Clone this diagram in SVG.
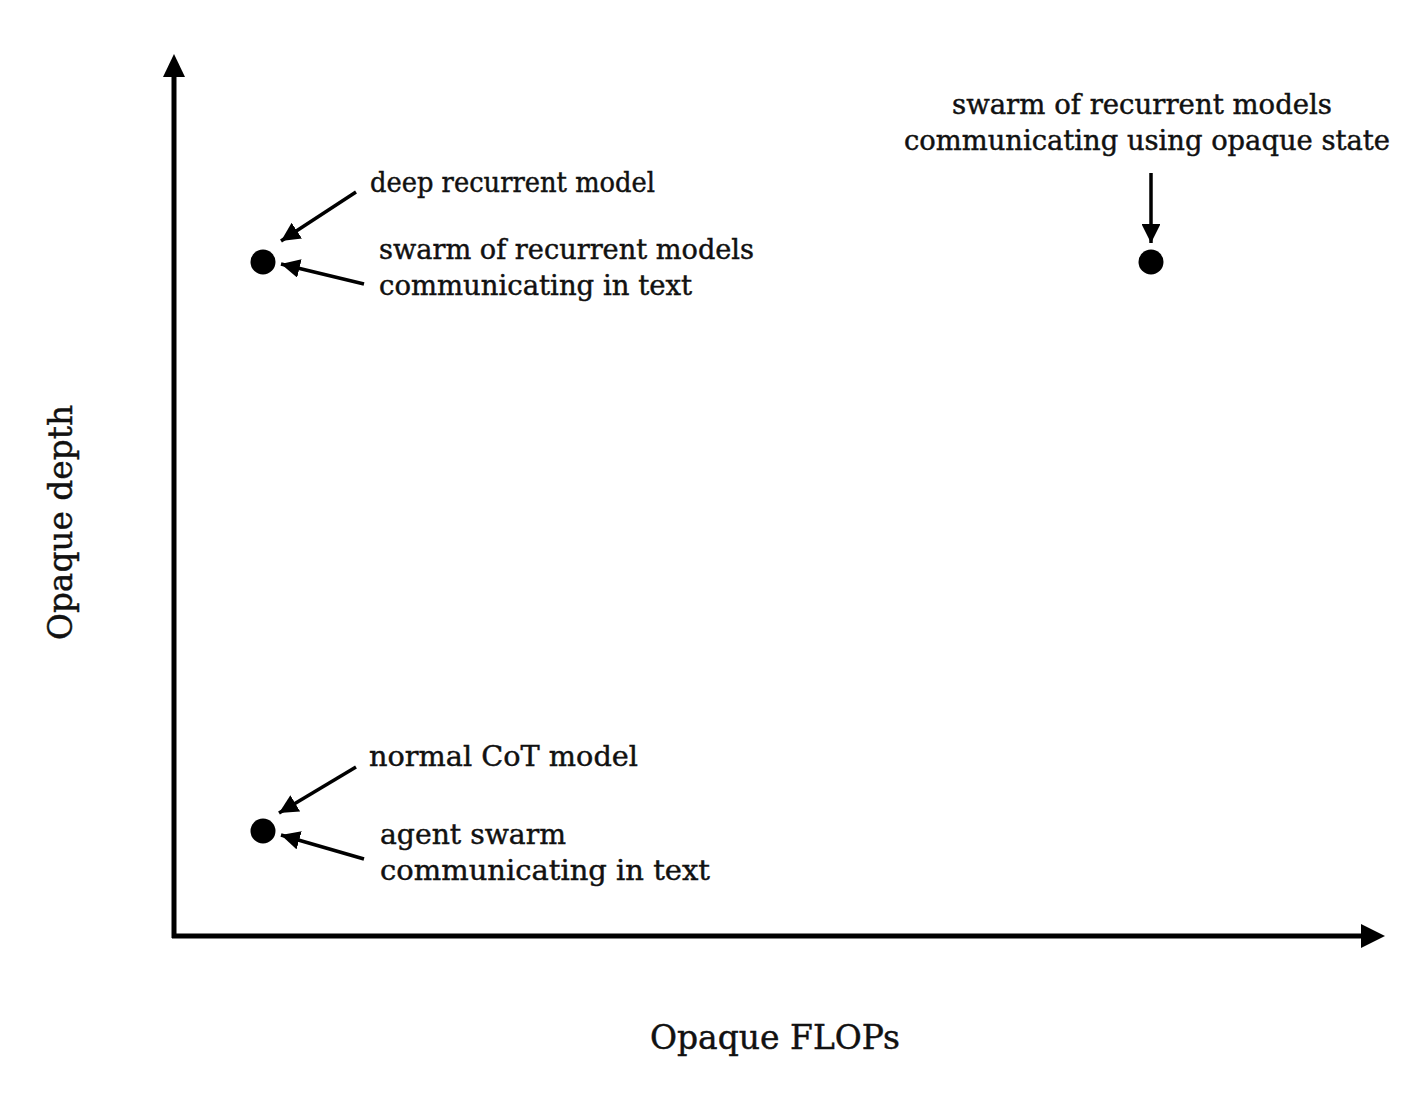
<svg xmlns="http://www.w3.org/2000/svg" width="1424" height="1105" viewBox="0 0 1424 1105">
<defs>
<style>
.lbl{font-family:"DejaVu Serif","Liberation Serif",serif;font-size:27.4px;fill:#111;stroke:#111;stroke-width:0.45}
.big{font-size:28.8px}
.axl{font-family:"DejaVu Serif","Liberation Serif",serif;font-size:33px;fill:#111;stroke:#111;stroke-width:0.45}
.ax{stroke:#000;stroke-width:5;fill:none}
.ar{stroke:#000;stroke-width:3.5;fill:none}
.dot{fill:#000}
</style>
<marker id="ah" viewBox="0 0 10 10" refX="10" refY="5" markerWidth="5.4" markerHeight="5.4" markerUnits="strokeWidth" orient="auto">
<path d="M0,0 L10,5 L0,10 Z" fill="#000"/>
</marker>
</defs>
<rect width="1424" height="1105" fill="#fff"/>
<g id="axes">
<line class="ax" x1="174" y1="938" x2="174" y2="74"/>
<polygon points="174,54 163,77 185,77" fill="#000"/>
<line class="ax" x1="172" y1="936" x2="1364" y2="936"/>
<polygon points="1385,936 1361,924 1361,948" fill="#000"/>
</g>
<g id="connectors">
<line class="ar" x1="356" y1="192" x2="281" y2="241" marker-end="url(#ah)"/>
<line class="ar" x1="364" y1="284" x2="281" y2="264" marker-end="url(#ah)"/>
<line class="ar" x1="1151" y1="173" x2="1151" y2="243" marker-end="url(#ah)"/>
<line class="ar" x1="356" y1="767" x2="279" y2="813" marker-end="url(#ah)"/>
<line class="ar" x1="364" y1="859" x2="281" y2="835" marker-end="url(#ah)"/>
</g>
<g id="node-deep-recurrent">
<circle class="dot" cx="263" cy="262" r="12.5"/>
<text class="lbl" x="370" y="192" textLength="285" lengthAdjust="spacingAndGlyphs">deep recurrent model</text>
<text class="lbl" x="379" y="259" textLength="375" lengthAdjust="spacingAndGlyphs">swarm of recurrent models</text>
<text class="lbl" x="379" y="295" textLength="313" lengthAdjust="spacingAndGlyphs">communicating in text</text>
</g>
<g id="node-swarm-opaque">
<circle class="dot" cx="1151" cy="262" r="12.5"/>
<text class="lbl" x="952" y="114" textLength="380" lengthAdjust="spacingAndGlyphs">swarm of recurrent models</text>
<text class="lbl" x="904" y="150" textLength="486" lengthAdjust="spacingAndGlyphs">communicating using opaque state</text>
</g>
<g id="node-cot">
<circle class="dot" cx="263" cy="831" r="12.5"/>
<text class="lbl big" x="369" y="766" textLength="269" lengthAdjust="spacingAndGlyphs">normal CoT model</text>
<text class="lbl big" x="380" y="844" textLength="186" lengthAdjust="spacingAndGlyphs">agent swarm</text>
<text class="lbl big" x="380" y="880" textLength="330" lengthAdjust="spacingAndGlyphs">communicating in text</text>
</g>
<g id="axis-labels">
<text class="axl" x="650" y="1049" textLength="250" lengthAdjust="spacingAndGlyphs">Opaque FLOPs</text>
<text class="axl" transform="translate(72,640) rotate(-90)" textLength="235" lengthAdjust="spacingAndGlyphs">Opaque depth</text>
</g>
</svg>
